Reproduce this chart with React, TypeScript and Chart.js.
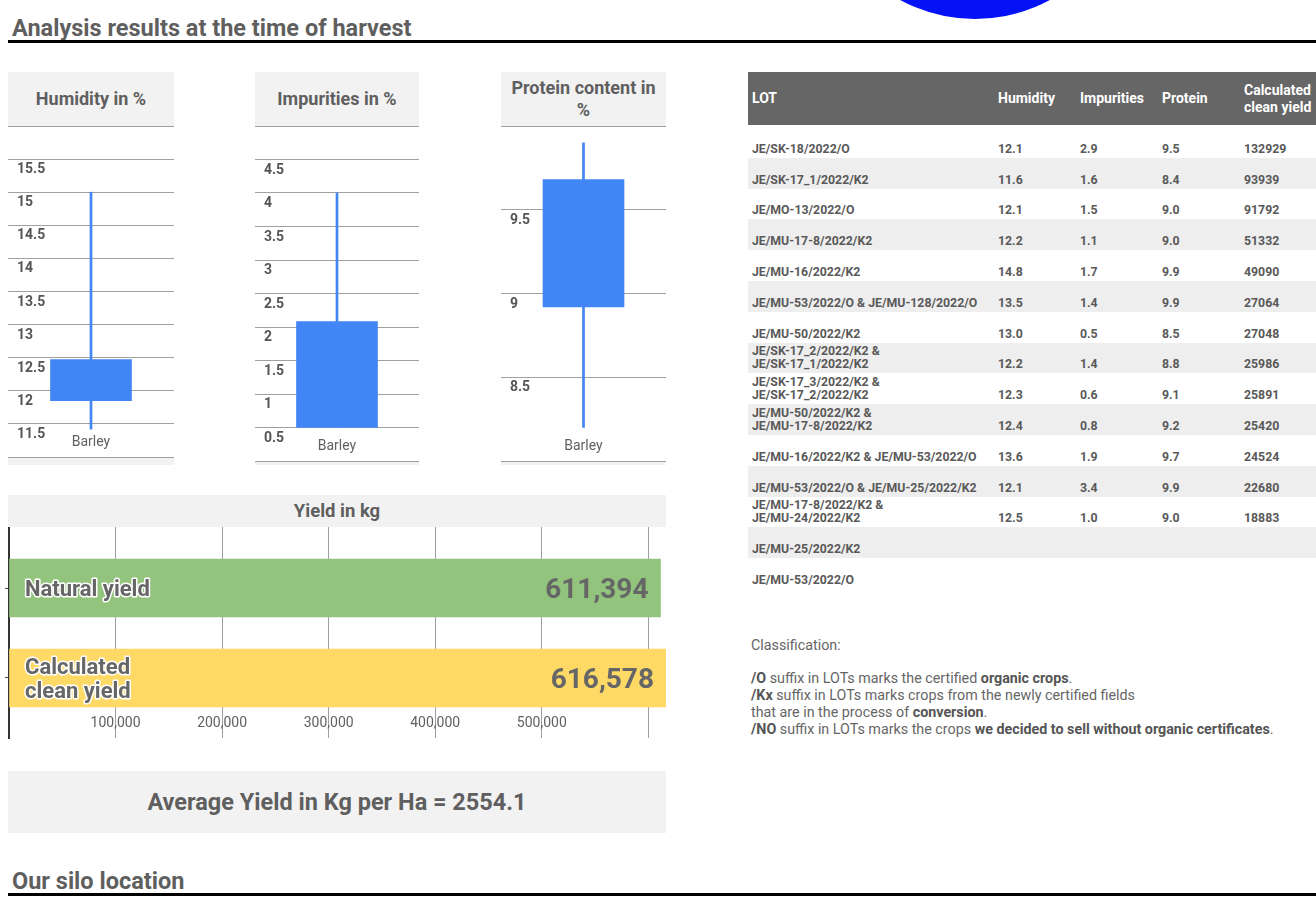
import React, { useEffect, useRef } from 'react';
import { Chart, registerables } from 'chart.js';

Chart.register(...registerables);

const FONT = 'Roboto, "Noto Sans", sans-serif';
const BLUE = '#4285f4';
const GRID = '#a0a0a0';
const DARK = '#5f5f5f';

// ---- candlestick panels ----
const crop = ['Barley'];
const humidityAxis = [11, 16];
const humidityWhisker = [11.42, 15.0];
const humidityBox = [11.85, 12.47];
const impuritiesAxis = [0, 5];
const impuritiesWhisker = [0.5, 4.0];
const impuritiesBox = [0.5, 2.08];
const proteinAxis = [8, 10];
const proteinWhisker = [8.2, 9.9];
const proteinBox = [8.92, 9.68];
const candleStep = 0.5;

// ---- yield bars ----
const yieldCategories = ['Natural yield', 'Calculated clean yield'];
const yieldValues = [611394, 616578];
const yieldColors = ['#93c47d', '#ffd966'];
const yieldStep = 100000;
const yieldCategoryRange = [-0.678, 1.667];

// ---- table ----
const tableHeaders = ['LOT', 'Humidity', 'Impurities', 'Protein', 'Calculated clean yield'];
const lots = [
  'JE/SK-18/2022/O',
  'JE/SK-17_1/2022/K2',
  'JE/MO-13/2022/O',
  'JE/MU-17-8/2022/K2',
  'JE/MU-16/2022/K2',
  'JE/MU-53/2022/O & JE/MU-128/2022/O',
  'JE/MU-50/2022/K2',
  'JE/SK-17_2/2022/K2 & JE/SK-17_1/2022/K2',
  'JE/SK-17_3/2022/K2 & JE/SK-17_2/2022/K2',
  'JE/MU-50/2022/K2 & JE/MU-17-8/2022/K2',
  'JE/MU-16/2022/K2 & JE/MU-53/2022/O',
  'JE/MU-53/2022/O & JE/MU-25/2022/K2',
  'JE/MU-17-8/2022/K2 & JE/MU-24/2022/K2',
  'JE/MU-25/2022/K2',
  'JE/MU-53/2022/O',
];
const lotHumidity = ['12.1', '11.6', '12.1', '12.2', '14.8', '13.5', '13.0', '12.2', '12.3', '12.4', '13.6', '12.1', '12.5', '', ''];
const lotImpurities = ['2.9', '1.6', '1.5', '1.1', '1.7', '1.4', '0.5', '1.4', '0.6', '0.8', '1.9', '3.4', '1.0', '', ''];
const lotProtein = ['9.5', '8.4', '9.0', '9.0', '9.9', '9.9', '8.5', '8.8', '9.1', '9.2', '9.7', '9.9', '9.0', '', ''];
const lotCleanYield = ['132929', '93939', '91792', '51332', '49090', '27064', '27048', '25986', '25891', '25420', '24524', '22680', '18883', '', ''];

const averageYield = '2554.1';

const candleLabelPlugin = {
  id: 'candleLabels',
  afterDraw(chart: any) {
    const { ctx, chartArea, scales } = chart;
    const y = scales.y;
    const x = scales.x;
    ctx.save();
    ctx.font = `bold 14px ${FONT}`;
    ctx.fillStyle = '#555555';
    ctx.textAlign = 'left';
    ctx.textBaseline = 'alphabetic';
    y.ticks.forEach((t: any) => {
      if (t.value === y.min || t.value === y.max) return;
      ctx.fillText(String(t.value), chartArea.left + 9, y.getPixelForValue(t.value) + 14);
    });
    ctx.font = `14px ${FONT}`;
    ctx.fillStyle = '#616161';
    ctx.textAlign = 'center';
    x.ticks.forEach((t: any, i: number) => {
      ctx.fillText(String(x.getLabelForValue(t.value)), x.getPixelForTick(i), chartArea.bottom - 11);
    });
    ctx.restore();
  },
};

function CandleChart(props: { left: number; width: number; bottom: number; axis: number[]; whisker: number[]; box: number[] }) {
  const ref = useRef<HTMLCanvasElement>(null);
  const height = props.bottom - 126 + 2;
  useEffect(() => {
    const chart = new Chart(ref.current as HTMLCanvasElement, {
      type: 'bar',
      data: {
        labels: crop,
        datasets: [
          { data: [props.box as any], backgroundColor: BLUE, barThickness: 81, grouped: false, borderWidth: 0 } as any,
          { data: [props.whisker as any], backgroundColor: BLUE, barThickness: 2, grouped: false, borderWidth: 0 } as any,
        ],
      },
      options: {
        responsive: false,
        animation: false,
        layout: { padding: { top: 1, bottom: 1, left: 0, right: 0 } },
        plugins: { legend: { display: false }, tooltip: { enabled: false }, title: { display: false } },
        scales: {
          x: {
            offset: true,
            ticks: { display: false },
            grid: { display: false, drawTicks: false },
            border: { display: false },
          },
          y: {
            min: props.axis[0],
            max: props.axis[1],
            ticks: { display: false, stepSize: candleStep },
            grid: { color: GRID, lineWidth: 1, drawTicks: false },
            border: { display: false },
          },
        },
      },
      plugins: [candleLabelPlugin],
    });
    return () => chart.destroy();
  }, []);
  return (
    <canvas
      ref={ref}
      width={props.width}
      height={height}
      style={{ position: 'absolute', left: props.left, top: 125, width: props.width, height }}
    />
  );
}

function splitCategory(label: string): string[] {
  if (label.length <= 14) return [label];
  const i = label.indexOf(' ');
  return [label.slice(0, i), label.slice(i + 1)];
}

const yieldLabelPlugin = {
  id: 'yieldLabels',
  afterDraw(chart: any) {
    const { ctx, chartArea, scales } = chart;
    const x = scales.x;
    const y = scales.y;
    ctx.save();
    ctx.font = `14px ${FONT}`;
    ctx.fillStyle = '#616161';
    ctx.textAlign = 'center';
    ctx.textBaseline = 'alphabetic';
    x.ticks.forEach((t: any, i: number) => {
      if (i === 0 || i === x.ticks.length - 1) return;
      ctx.fillText(Number(t.value).toLocaleString('en-US'), x.getPixelForValue(t.value), chartArea.bottom - 11);
    });
    ctx.font = `bold 22px ${FONT}`;
    ctx.textAlign = 'left';
    ctx.lineJoin = 'round';
    y.ticks.forEach((t: any) => {
      const lines = splitCategory(yieldCategories[t.value]);
      const cy = y.getPixelForValue(t.value);
      const lh = 24;
      lines.forEach((ln, k) => {
        const by = cy - ((lines.length - 1) * lh) / 2 + k * lh + 8;
        ctx.strokeStyle = '#ffffff';
        ctx.lineWidth = 3;
        ctx.strokeText(ln, chartArea.left + 16, by);
        ctx.fillStyle = '#666666';
        ctx.fillText(ln, chartArea.left + 16, by);
      });
    });
    ctx.font = `bold 28px ${FONT}`;
    ctx.textAlign = 'right';
    ctx.fillStyle = '#666666';
    const meta = chart.getDatasetMeta(0);
    meta.data.forEach((el: any, i: number) => {
      ctx.fillText(yieldValues[i].toLocaleString('en-US'), el.x - 12, el.y + 10);
    });
    ctx.restore();
  },
};

function YieldChart() {
  const ref = useRef<HTMLCanvasElement>(null);
  useEffect(() => {
    const chart = new Chart(ref.current as HTMLCanvasElement, {
      type: 'bar',
      data: {
        datasets: [
          {
            data: yieldValues.map((v, i) => ({ x: v, y: i })),
            backgroundColor: yieldColors,
            barThickness: 58,
            borderWidth: 0,
          } as any,
        ],
      },
      options: {
        indexAxis: 'y',
        responsive: false,
        animation: false,
        layout: { padding: { top: 0, right: 1, bottom: 1, left: 0 } },
        plugins: { legend: { display: false }, tooltip: { enabled: false } },
        scales: {
          x: {
            type: 'linear',
            min: 0,
            max: Math.max(...yieldValues),
            afterBuildTicks: (scale: any) => {
              const t: any[] = [];
              for (let v = 0; v <= scale.max; v += yieldStep) t.push({ value: v });
              scale.ticks = t;
            },
            ticks: { display: false },
            grid: { color: '#9e9e9e', drawTicks: false, offset: false },
            border: { display: false },
          },
          y: {
            type: 'linear',
            reverse: true,
            offset: false,
            min: yieldCategoryRange[0],
            max: yieldCategoryRange[1],
            afterBuildTicks: (scale: any) => {
              scale.ticks = yieldCategories.map((_, i) => ({ value: i }));
            },
            ticks: { display: false },
            grid: { display: true, offset: false, drawOnChartArea: false, drawTicks: true, tickLength: 4, color: '#444' },
            border: { display: true, color: '#333', width: 2 },
          },
        },
      } as any,
      plugins: [yieldLabelPlugin],
    });
    return () => chart.destroy();
  }, []);
  return (
    <canvas
      ref={ref}
      width={662}
      height={212}
      style={{ position: 'absolute', left: 5, top: 527, width: 662, height: 212 }}
    />
  );
}

const headerBox = (left: number, width: number, title: string) => (
  <div
    style={{
      position: 'absolute',
      left,
      top: 72,
      width,
      height: 54,
      background: '#f2f2f2',
      display: 'flex',
      alignItems: 'center',
      justifyContent: 'center',
      textAlign: 'center',
      font: `bold 18px ${FONT}`,
      lineHeight: '22px',
      color: DARK,
      padding: '0 7px',
      boxSizing: 'border-box',
    }}
  >
    {title}
  </div>
);

const panelBack = (left: number, width: number, bottom: number) => (
  <>
    <div style={{ position: 'absolute', left, top: 72, width, height: 393, background: '#f2f2f2' }} />
    <div style={{ position: 'absolute', left, top: 126, width, height: bottom - 126, background: '#ffffff' }} />
  </>
);

function displayLot(name: string): React.ReactNode {
  if (name.length > 34) {
    const i = name.indexOf('& ');
    return (
      <>
        {name.slice(0, i + 1)}
        <br />
        {name.slice(i + 2)}
      </>
    );
  }
  return name;
}

const colX = [752, 998, 1080, 1162, 1244];
const ROW_TOP = 127;
const ROW_H = 30.8;

export default function App() {
  const cellStyle = (x: number): React.CSSProperties => ({
    position: 'absolute',
    left: x - 748,
    bottom: 2,
    lineHeight: '13px',
    whiteSpace: 'nowrap',
  });
  const b = { color: '#555' };
  return (
    <div
      style={{
        position: 'absolute',
        left: 0,
        top: 0,
        width: 1316,
        height: 911,
        overflow: 'hidden',
        background: '#ffffff',
        fontFamily: FONT,
      }}
    >
      <div
        style={{
          position: 'absolute',
          left: 818,
          top: -295,
          width: 314,
          height: 314,
          borderRadius: '50%',
          background: '#0412f5',
        }}
      />
      <div style={{ position: 'absolute', left: 12, top: 17, font: `bold 23.5px ${FONT}`, lineHeight: '23px', color: DARK, whiteSpace: 'nowrap' }}>
        Analysis results at the time of harvest
      </div>
      <div style={{ position: 'absolute', left: 8, top: 40, width: 1308, height: 3, background: '#000' }} />

      {panelBack(8, 166, 457)}
      {panelBack(255, 164, 461)}
      {panelBack(501, 165, 461)}
      {headerBox(8, 166, 'Humidity in %')}
      {headerBox(255, 164, 'Impurities in %')}
      {headerBox(501, 165, 'Protein content in %')}
      <CandleChart left={8} width={166} bottom={457} axis={humidityAxis} whisker={humidityWhisker} box={humidityBox} />
      <CandleChart left={255} width={164} bottom={461} axis={impuritiesAxis} whisker={impuritiesWhisker} box={impuritiesBox} />
      <CandleChart left={501} width={165} bottom={461} axis={proteinAxis} whisker={proteinWhisker} box={proteinBox} />

      <div
        style={{
          position: 'absolute',
          left: 8,
          top: 495,
          width: 658,
          height: 32,
          background: '#f2f2f2',
          display: 'flex',
          alignItems: 'center',
          justifyContent: 'center',
          font: `bold 18.5px ${FONT}`,
          color: DARK,
        }}
      >
        Yield in kg
      </div>
      <YieldChart />

      <div
        style={{
          position: 'absolute',
          left: 8,
          top: 771,
          width: 658,
          height: 62,
          background: '#f2f2f2',
          display: 'flex',
          alignItems: 'center',
          justifyContent: 'center',
          font: `bold 23.5px ${FONT}`,
          color: DARK,
        }}
      >
        {`Average Yield in Kg per Ha = ${averageYield}`}
      </div>

      <div style={{ position: 'absolute', left: 12, top: 870, font: `bold 23.5px ${FONT}`, lineHeight: '23px', color: DARK, whiteSpace: 'nowrap' }}>
        Our silo location
      </div>
      <div style={{ position: 'absolute', left: 8, top: 893, width: 1308, height: 3, background: '#000' }} />

      <div style={{ position: 'absolute', left: 748, top: 72, width: 568, height: 53, background: '#666666', color: '#fff', font: `bold 14px ${FONT}` }}>
        {tableHeaders.map((h, i) => (
          <div
            key={h}
            style={{
              position: 'absolute',
              left: colX[i] - 748,
              top: 0,
              height: 53,
              display: 'flex',
              alignItems: 'center',
              lineHeight: '17px',
            }}
          >
            {i === 4 ? (
              <span>
                Calculated
                <br />
                clean yield
              </span>
            ) : (
              h
            )}
          </div>
        ))}
      </div>
      {lots.map((lot, r) => (
        <div
          key={lot + r}
          style={{
            position: 'absolute',
            left: 748,
            top: ROW_TOP + r * ROW_H,
            width: 568,
            height: ROW_H,
            background: r % 2 === 1 ? '#eeeeee' : '#ffffff',
            font: `bold 12.3px ${FONT}`,
            color: '#595959',
          }}
        >
          <div style={cellStyle(colX[0])}>{displayLot(lot)}</div>
          <div style={cellStyle(colX[1])}>{lotHumidity[r]}</div>
          <div style={cellStyle(colX[2])}>{lotImpurities[r]}</div>
          <div style={cellStyle(colX[3])}>{lotProtein[r]}</div>
          <div style={cellStyle(colX[4])}>{lotCleanYield[r]}</div>
        </div>
      ))}

      <div
        style={{
          position: 'absolute',
          left: 751,
          top: 637,
          font: `14.3px ${FONT}`,
          lineHeight: '16.7px',
          color: '#666666',
          whiteSpace: 'nowrap',
        }}
      >
        Classification:
        <br />
        <br />
        <b style={b}>/O</b> suffix in LOTs marks the certified <b style={b}>organic crops</b>.
        <br />
        <b style={b}>/Kx</b> suffix in LOTs marks crops from the newly certified fields
        <br />
        that are in the process of <b style={b}>conversion</b>.
        <br />
        <b style={b}>/NO</b> suffix in LOTs marks the crops{' '}
        <b style={b}>we decided to sell without organic certificates</b>.
      </div>
    </div>
  );
}
